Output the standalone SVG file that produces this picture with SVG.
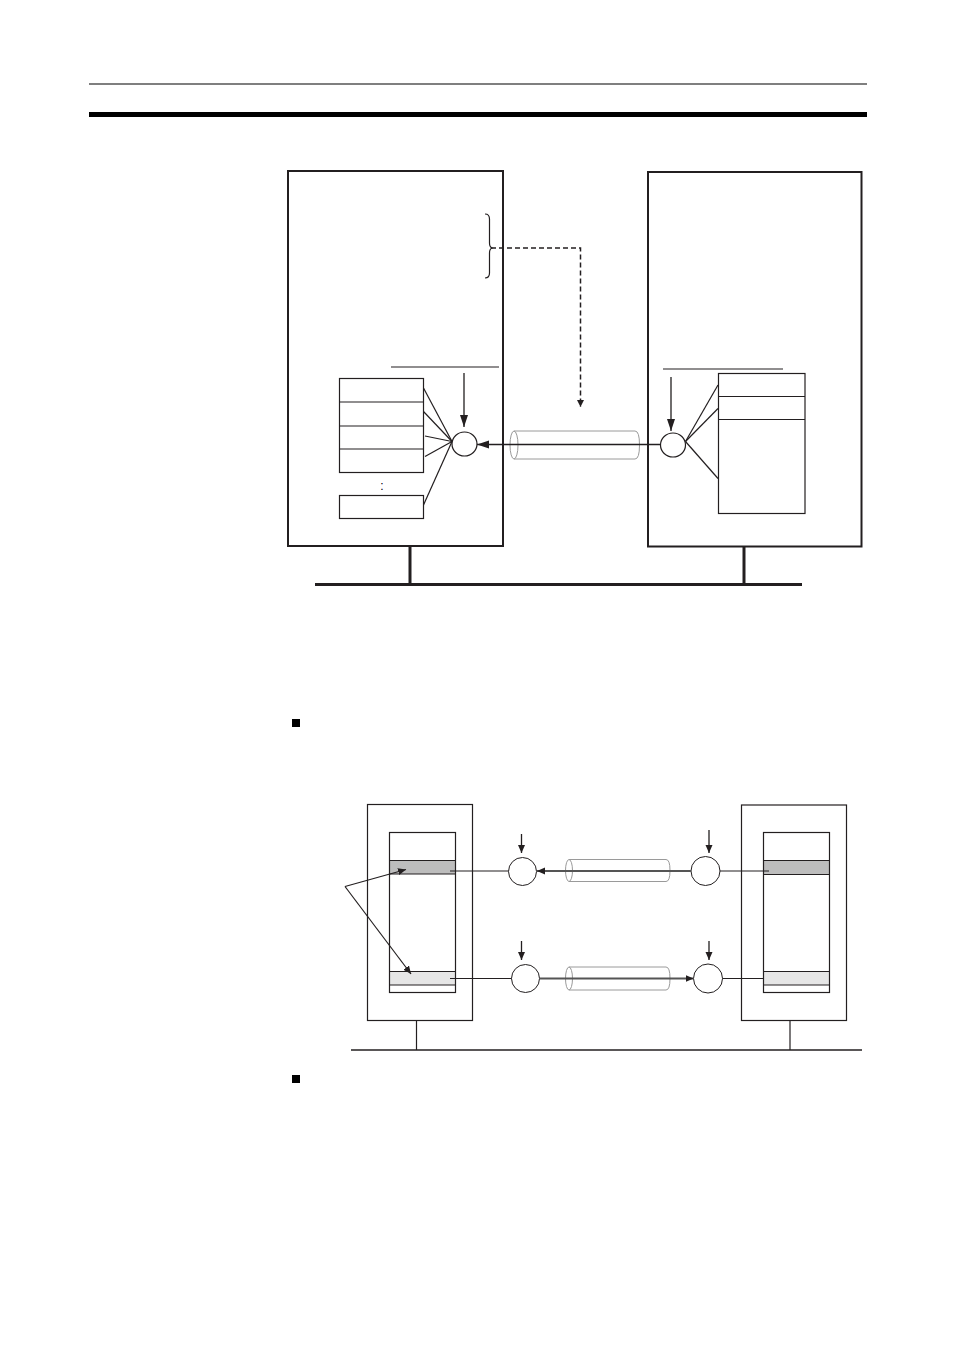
<svg xmlns="http://www.w3.org/2000/svg" width="954" height="1351" viewBox="0 0 954 1351">
<style>
.box{fill:none;stroke:#231f20;stroke-width:2}
.thin{fill:none;stroke:#231f20;stroke-width:1.2}
.cyl{fill:none;stroke:#9a9a9a;stroke-width:1}
.ln{fill:none;stroke:#231f20;stroke-width:1.3}
.gl{fill:none;stroke:#555;stroke-width:2}
.bus{fill:none;stroke:#231f20;stroke-width:3}
.txt{font-family:"Liberation Sans",Arial,sans-serif;font-size:12px;fill:#000}
</style>
<defs>
<marker id="ah" markerUnits="userSpaceOnUse" markerWidth="14" markerHeight="10" refX="12" refY="4" orient="auto"><path d="M0,0 L12,4 L0,8 Z" fill="#231f20"/></marker>
<marker id="ahs" markerUnits="userSpaceOnUse" markerWidth="10" markerHeight="8" refX="8" refY="3.5" orient="auto"><path d="M0,0 L8,3.5 L0,7 Z" fill="#231f20"/></marker>
<marker id="ahd" markerUnits="userSpaceOnUse" markerWidth="10" markerHeight="8" refX="7" refY="3.5" orient="auto"><path d="M0,0 L7,3.5 L0,7 Z" fill="#231f20"/></marker>
</defs>
<rect width="954" height="1351" fill="#fff"/>

<g id="header">
<line x1="89" y1="84" x2="867" y2="84" stroke="#000" stroke-width="1.2"/>
<rect x="89" y="112" width="778" height="5" fill="#000"/>
</g>

<!-- Top diagram -->
<g id="left-node">
<rect class="box" x="288" y="171" width="215" height="375"/>
<path class="thin" d="M485,214 Q489.5,214 489.5,219 L489.5,243 Q489.5,247 492,248 Q489.5,249 489.5,253 L489.5,273 Q489.5,278 485,278"/>
<line class="thin" x1="391" y1="367" x2="499" y2="367"/>
<rect class="thin" x="339.5" y="378.5" width="84" height="94"/>
<line class="thin" x1="339.5" y1="402" x2="423.5" y2="402"/>
<line class="thin" x1="339.5" y1="426" x2="423.5" y2="426"/>
<line class="thin" x1="339.5" y1="449" x2="423.5" y2="449"/>
<rect class="thin" x="339.5" y="495.5" width="84" height="23"/>
<text class="txt" x="382" y="489.5" text-anchor="middle">:</text>
<ellipse class="thin" cx="464.5" cy="444" rx="12.5" ry="12"/>
</g>

<g id="right-node">
<rect class="box" x="648" y="172" width="213.5" height="374.5"/>
<line class="thin" x1="663" y1="369" x2="783" y2="369"/>
<rect class="thin" x="718.5" y="373.5" width="86.5" height="140"/>
<line class="thin" x1="718.5" y1="396.5" x2="805" y2="396.5"/>
<line class="thin" x1="718.5" y1="419.5" x2="805" y2="419.5"/>
<ellipse class="thin" cx="673" cy="445" rx="12.5" ry="12"/>
</g>

<g id="cable-top">
<path class="cyl" d="M514,431 L635,431 Q639.5,431 639.5,445 Q639.5,459 635,459 L514,459"/>
<ellipse class="cyl" cx="514" cy="445" rx="4" ry="14"/>
</g>

<g id="bus-top">
<line class="bus" x1="315" y1="584.5" x2="802" y2="584.5"/>
<line class="bus" x1="410" y1="546" x2="410" y2="584"/>
<line class="bus" x1="744" y1="546" x2="744" y2="584"/>
</g>

<g id="connectors-top">
<path d="M491,248 L580.5,248 L580.5,407" fill="none" stroke="#231f20" stroke-width="1.5" stroke-dasharray="5,3" marker-end="url(#ahd)"/>
<line class="ln" x1="464" y1="373" x2="464" y2="427" marker-end="url(#ah)"/>
<line class="ln" x1="671" y1="377" x2="671" y2="431" marker-end="url(#ah)"/>
<line class="ln" x1="660.5" y1="444.5" x2="477" y2="444.5" marker-end="url(#ah)"/>
<line class="thin" x1="423.5" y1="388" x2="452" y2="441.5"/>
<line class="thin" x1="423.5" y1="411.5" x2="452" y2="441.5"/>
<line class="thin" x1="425" y1="436" x2="452" y2="441.5"/>
<line class="thin" x1="425" y1="456.5" x2="452" y2="441.5"/>
<line class="thin" x1="423.5" y1="505" x2="452" y2="441.5"/>
<line class="thin" x1="685.5" y1="441.5" x2="718" y2="385"/>
<line class="thin" x1="685.5" y1="441.5" x2="718" y2="408.5"/>
<line class="thin" x1="685.5" y1="441.5" x2="718" y2="478.5"/>
</g>

<!-- Bottom section -->
<rect id="bullet1" x="292" y="719" width="8" height="8" fill="#000"/>
<rect id="bullet2" x="292" y="1075" width="8" height="8" fill="#000"/>

<g id="left-node-2">
<rect class="thin" x="367.5" y="804.5" width="105" height="216"/>
<rect x="389.5" y="860.5" width="66" height="13.5" fill="#bdbdbd"/>
<rect x="389.5" y="971.5" width="66" height="13.5" fill="#e6e6e6"/>
<rect class="thin" x="389.5" y="832.5" width="66" height="160"/>
<line class="thin" x1="389.5" y1="860.5" x2="455.5" y2="860.5"/>
<line class="thin" x1="389.5" y1="874" x2="455.5" y2="874"/>
<line class="thin" x1="389.5" y1="971.5" x2="455.5" y2="971.5"/>
<line class="thin" x1="389.5" y1="985" x2="455.5" y2="985"/>
<circle cx="522.5" cy="871.5" r="14" fill="none" stroke="#231f20" stroke-width="1"/>
<circle cx="525.5" cy="978.5" r="14" fill="none" stroke="#231f20" stroke-width="1"/>
</g>

<g id="right-node-2">
<rect class="thin" x="741.5" y="805" width="105" height="215.5"/>
<rect x="763.5" y="860.5" width="66" height="14" fill="#bdbdbd"/>
<rect x="763.5" y="971.5" width="66" height="13.5" fill="#e6e6e6"/>
<rect class="thin" x="763.5" y="832.5" width="66" height="160"/>
<line class="thin" x1="763.5" y1="860.5" x2="829.5" y2="860.5"/>
<line class="thin" x1="763.5" y1="874.5" x2="829.5" y2="874.5"/>
<line class="thin" x1="763.5" y1="971.5" x2="829.5" y2="971.5"/>
<line class="thin" x1="763.5" y1="985" x2="829.5" y2="985"/>
<circle cx="705.5" cy="871" r="14.5" fill="none" stroke="#231f20" stroke-width="1"/>
<circle cx="708" cy="978.5" r="14.5" fill="none" stroke="#231f20" stroke-width="1"/>
</g>

<g id="cables-2">
<path class="cyl" d="M569,859.5 L666,859.5 Q670,859.5 670,870.5 Q670,881.5 666,881.5 L569,881.5"/>
<ellipse class="cyl" cx="569" cy="870.5" rx="3.5" ry="11"/>
<path class="cyl" d="M569,967 L666,967 Q670,967 670,978.5 Q670,990 666,990 L569,990"/>
<ellipse class="cyl" cx="569" cy="978.5" rx="3.5" ry="11.5"/>
</g>

<g id="bus-2">
<line x1="351" y1="1050" x2="862" y2="1050" stroke="#231f20" stroke-width="1.3"/>
<line class="thin" x1="416.5" y1="1021" x2="416.5" y2="1050"/>
<line class="thin" x1="790" y1="1021" x2="790" y2="1050"/>
</g>

<g id="connectors-2">
<line class="thin" x1="450" y1="871" x2="508.5" y2="871"/>
<line class="thin" x1="450" y1="978.5" x2="511.5" y2="978.5"/>
<line class="thin" x1="720" y1="871" x2="769" y2="871"/>
<line class="thin" x1="722.5" y1="978.5" x2="763.5" y2="978.5"/>
<line class="gl" x1="691" y1="871" x2="537" y2="871" marker-end="url(#ahs)"/>
<line class="gl" x1="539.5" y1="978.5" x2="693.5" y2="978.5" marker-end="url(#ahs)"/>
<line class="ln" x1="521.5" y1="834" x2="521.5" y2="853" marker-end="url(#ahs)"/>
<line class="ln" x1="521.5" y1="941" x2="521.5" y2="960" marker-end="url(#ahs)"/>
<line class="ln" x1="709" y1="830" x2="709" y2="853" marker-end="url(#ahs)"/>
<line class="ln" x1="709" y1="941" x2="709" y2="960" marker-end="url(#ahs)"/>
<line class="thin" x1="345" y1="886.5" x2="406" y2="869.5" marker-end="url(#ahs)"/>
<line class="thin" x1="345" y1="886.5" x2="411" y2="974" marker-end="url(#ahs)"/>
</g>
</svg>
